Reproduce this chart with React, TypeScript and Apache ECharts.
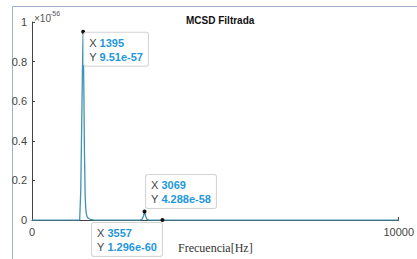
import React, { useEffect, useRef } from "react";
import * as echarts from "echarts";

// Frequency (Hz) and filtered MCSD (units of 1e-56)
const freqs = [0, 1300, 1330, 1360, 1380, 1395, 1410, 1430, 1450, 1470, 1500, 1540, 1600, 1700, 2950, 3010, 3040, 3069, 3095, 3125, 3180, 3557, 4000, 10000];
const mcsd = [0, 0, 0.15, 0.55, 0.82, 0.951, 0.72, 0.35, 0.12, 0.045, 0.018, 0.008, 0.003, 0, 0, 0.006, 0.022, 0.04288, 0.022, 0.006, 0, 0.0001296, 0, 0];

const tipX = [1395, 3069, 3557];
const tipY = [0.951, 0.04288, 0.0001296];
const tipYText = ["9.51e-57", "4.288e-58", "1.296e-60"];

const yTicks = [0, 0.2, 0.4, 0.6, 0.8, 1];
const xTicks = [0, 10000];

const LINE = "#3f93b3";
const VAL = "#1f97db";
const SANS = "Liberation Sans, Arial";

export default function App() {
  const ref = useRef<HTMLDivElement>(null);
  useEffect(() => {
    if (!ref.current) return;
    const chart = echarts.init(ref.current, null, { renderer: "svg" });
    const tipLayouts = [
      { position: [3, 3], align: "left", verticalAlign: "top" },
      { position: [3.5, -1.5], align: "left", verticalAlign: "bottom" },
      { position: [1.5, 5], align: "right", verticalAlign: "top" },
    ];
    const markData = tipX.map((x, i) => ({
      coord: [x, tipY[i]],
      label: {
        show: true,
        position: tipLayouts[i].position,
        align: tipLayouts[i].align,
        verticalAlign: tipLayouts[i].verticalAlign,
        formatter: `{k|X }{v|${x}}\n{k|Y }{v|${tipYText[i]}}`,
        backgroundColor: "rgba(255,255,255,0.95)",
        borderColor: "#d4d4d4",
        borderWidth: 1,
        borderRadius: 2,
        padding: [3, 5, 2, 5],
        rich: {
          k: { color: "#444", fontSize: 11, fontFamily: SANS, lineHeight: 14, align: "left" },
          v: { color: VAL, fontSize: 11, fontWeight: "bold", fontFamily: SANS, lineHeight: 14, align: "left" },
        },
      },
    }));
    chart.setOption({
      animation: false,
      backgroundColor: "#ffffff",
      title: {
        text: "MCSD Filtrada",
        left: 181,
        top: 10,
        textStyle: { fontSize: 10, fontWeight: "bold", color: "#111", fontFamily: SANS },
      },
      grid: { left: 32, right: 13, top: 22, bottom: 38 },
      xAxis: {
        type: "value",
        min: 0,
        max: 10000,
        interval: 10000,
        name: "Frecuencia[Hz]",
        nameLocation: "middle",
        nameGap: 18,
        nameTextStyle: { fontFamily: "Liberation Serif, DejaVu Serif, serif", fontSize: 12, color: "#333" },
        axisLine: { lineStyle: { color: "#444", width: 1 } },
        axisTick: { inside: true, length: 3, lineStyle: { color: "#444" } },
        axisLabel: {
          color: "#444",
          fontSize: 11,
          margin: 6,
          fontFamily: SANS,
          formatter: (v: number) => {
            const t = xTicks.find((k) => Math.abs(k - v) < 1e-6);
            return t === undefined ? "" : String(t);
          },
        },
        splitLine: { show: false },
      },
      yAxis: {
        type: "value",
        min: 0,
        max: 1,
        interval: 0.2,
        axisLine: { show: true, lineStyle: { color: "#444", width: 1 } },
        axisTick: { show: true, inside: true, length: 3, lineStyle: { color: "#444" } },
        axisLabel: {
          color: "#444",
          fontSize: 11,
          margin: 5,
          fontFamily: SANS,
          formatter: (v: number) => {
            const t = yTicks.find((k) => Math.abs(k - v) < 1e-9);
            return t === undefined ? "" : String(t);
          },
        },
        splitLine: { show: false },
      },
      graphic: [
        { type: "line", shape: { x1: 12.5, y1: 6.5, x2: 417, y2: 6.5 }, style: { stroke: "#9db2c6", lineWidth: 1 } },
        { type: "line", shape: { x1: 12.5, y1: 6.5, x2: 12.5, y2: 259 }, style: { stroke: "#9db2c6", lineWidth: 1 } },
        { type: "text", x: 34, y: 13, style: { text: "×10", fontSize: 10, fill: "#555", fontFamily: SANS } },
        { type: "text", x: 50, y: 10, style: { text: "-56", fontSize: 7, fill: "#555", fontFamily: SANS } },
      ],
      series: [
        {
          type: "line",
          data: freqs.map((f, i) => [f, mcsd[i]]),
          showSymbol: false,
          lineStyle: { color: LINE, width: 1.3 },
          itemStyle: { color: LINE },
          markPoint: {
            symbol: "circle",
            symbolSize: 4,
            itemStyle: { color: "#111" },
            data: markData,
          },
        },
      ],
    });
    return () => chart.dispose();
  }, []);
  return <div ref={ref} style={{ position: "absolute", left: 0, top: 0, width: 417, height: 259 }} />;
}
